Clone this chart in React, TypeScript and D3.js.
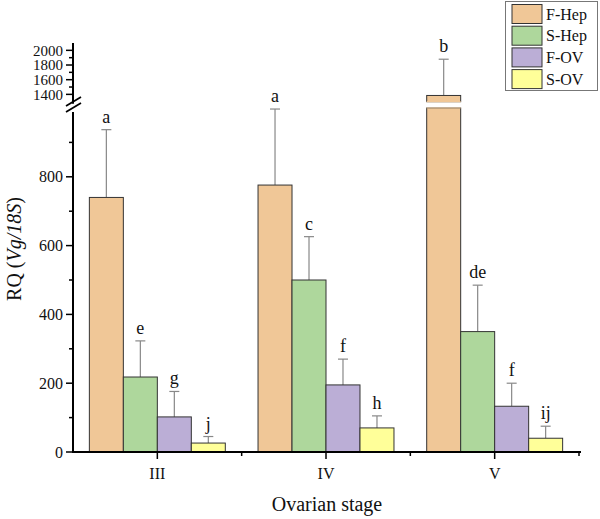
import React from "react";
import * as d3 from "d3";

const stages = ["III", "IV", "V"];
const seriesNames = ["F-Hep", "S-Hep", "F-OV", "S-OV"];
const seriesColors = ["#F0C797", "#AED79C", "#BBAED6", "#FFFF99"];
// values[series][stage]
const means = [
  [740, 776, 1385],
  [218, 500, 350],
  [102, 195, 133],
  [26, 70, 40],
];
const errs = [
  [197, 221, 494],
  [105, 126, 135],
  [74, 75, 67],
  [19, 35, 35],
];
const letters = [
  ["a", "a", "b"],
  ["e", "c", "de"],
  ["g", "f", "f"],
  ["j", "h", "ij"],
];
const lowTicks = [0, 200, 400, 600, 800];
const lowMinor = [100, 300, 500, 700, 900];
const highTicks = [1400, 1600, 1800, 2000];
const highMinor = [1500, 1700, 1900];

const FONT = "'Liberation Serif', 'Times New Roman', serif";

export default function App() {
  const axisX = 73;
  const x0 = d3.scaleBand<string>().domain(stages).range([axisX, 579]).paddingInner(0.194).paddingOuter(0.097);
  const x1 = d3.scaleBand<string>().domain(seriesNames).range([0, x0.bandwidth()]);
  const yLow = d3.scaleLinear().domain([0, 1000]).range([452, 108]);
  const yHigh = d3.scaleLinear().domain([1300, 2100]).range([101.7, 43]);
  const breakVal = 1000;
  const y = (v: number) => (v <= breakVal ? yLow(v) : yHigh(v));
  const full = d3.scaleBand<string>().domain(stages).range([axisX, 579]);

  return (
    <svg width={600} height={519} style={{ position: "absolute", left: 0, top: 0, background: "#fff" }}>
      {/* bars */}
      {seriesNames.map((s, si) =>
        stages.map((st, gi) => {
          const v = means[si][gi];
          const bx = (x0(st) as number) + (x1(s) as number);
          const bw = x1.bandwidth();
          const cx = bx + bw / 2;
          const top = v + errs[si][gi];
          const yt = y(top);
          const parts =
            v <= breakVal ? (
              <rect x={bx} y={yLow(v)} width={bw} height={yLow(0) - yLow(v)} fill={seriesColors[si]} stroke="#333" strokeWidth={1} />
            ) : (
              <g>
                <rect x={bx} y={yLow(breakVal)} width={bw} height={yLow(0) - yLow(breakVal)} fill={seriesColors[si]} stroke="#333" strokeWidth={1} />
                <rect x={bx} y={yHigh(v)} width={bw} height={yHigh(1300) - yHigh(v)} fill={seriesColors[si]} stroke="#333" strokeWidth={1} />
                <line x1={bx} x2={bx + bw} y1={yLow(breakVal)} y2={yLow(breakVal)} stroke={seriesColors[si]} strokeWidth={1.2} />
                <line x1={bx} x2={bx + bw} y1={yHigh(1300)} y2={yHigh(1300)} stroke={seriesColors[si]} strokeWidth={1.2} />
              </g>
            );
          return (
            <g key={s + st}>
              <line x1={cx} x2={cx} y1={y(v)} y2={yt} stroke="#888" strokeWidth={1.2} />
              <line x1={cx - 5} x2={cx + 5} y1={yt} y2={yt} stroke="#888" strokeWidth={1.2} />
              {parts}
              <text x={cx} y={yt - 7} textAnchor="middle" fontFamily={FONT} fontSize={18} fill="#111">
                {letters[si][gi]}
              </text>
            </g>
          );
        })
      )}

      {/* y axis lower */}
      <line x1={axisX} x2={axisX} y1={yLow(0) + 1} y2={112} stroke="#000" strokeWidth={2} />
      {lowTicks.map((t) => (
        <g key={"lt" + t}>
          <line x1={axisX - 7} x2={axisX} y1={yLow(t)} y2={yLow(t)} stroke="#000" strokeWidth={1.5} />
          <text x={axisX - 10} y={yLow(t)} dy="0.35em" textAnchor="end" fontFamily={FONT} fontSize={16} fill="#111">
            {t}
          </text>
        </g>
      ))}
      {lowMinor.map((t) => (
        <line key={"lm" + t} x1={axisX - 4} x2={axisX} y1={yLow(t)} y2={yLow(t)} stroke="#000" strokeWidth={1.5} />
      ))}
      {/* y axis upper */}
      <line x1={axisX} x2={axisX} y1={yHigh(1300) + 2} y2={43} stroke="#000" strokeWidth={2} />
      {highTicks.map((t) => (
        <g key={"ht" + t}>
          <line x1={axisX - 7} x2={axisX} y1={yHigh(t)} y2={yHigh(t)} stroke="#000" strokeWidth={1.5} />
          <text x={axisX - 10} y={yHigh(t)} dy="0.35em" textAnchor="end" fontFamily={FONT} fontSize={15} fill="#111">
            {t}
          </text>
        </g>
      ))}
      {highMinor.map((t) => (
        <line key={"hm" + t} x1={axisX - 4} x2={axisX} y1={yHigh(t)} y2={yHigh(t)} stroke="#000" strokeWidth={1.5} />
      ))}
      {/* break marks */}
      <line x1={axisX - 7} x2={axisX + 8} y1={106} y2={97} stroke="#000" strokeWidth={1.8} />
      <line x1={axisX - 7} x2={axisX + 8} y1={112} y2={103} stroke="#000" strokeWidth={1.8} />

      {/* x axis */}
      <line x1={axisX - 1} x2={581} y1={yLow(0)} y2={yLow(0)} stroke="#000" strokeWidth={2} />
      {stages.map((st) => {
        const c = (full(st) as number) + full.bandwidth() / 2;
        const e = (full(st) as number) + full.bandwidth();
        return (
          <g key={"xt" + st}>
            <line x1={c} x2={c} y1={yLow(0)} y2={yLow(0) + 7} stroke="#000" strokeWidth={1.5} />
            <line x1={e} x2={e} y1={yLow(0)} y2={yLow(0) + 4} stroke="#000" strokeWidth={1.5} />
            <text x={c} y={yLow(0) + 27} textAnchor="middle" fontFamily={FONT} fontSize={16} fill="#111">
              {st}
            </text>
          </g>
        );
      })}

      {/* axis titles */}
      <text x={327} y={511} textAnchor="middle" fontFamily={FONT} fontSize={20} fill="#111">
        Ovarian stage
      </text>
      <text transform="translate(21,249) rotate(-90)" textAnchor="middle" fontFamily={FONT} fontSize={20} fill="#111">
        RQ (<tspan fontStyle="italic">Vg/18S</tspan>)
      </text>

      {/* legend */}
      <rect x={505.5} y={1.5} width={92} height={89} fill="#fff" stroke="#777" strokeWidth={1} />
      {seriesNames.map((s, i) => (
        <g key={"lg" + s}>
          <rect x={512} y={4.5 + i * 21.7} width={30} height={19} fill={seriesColors[i]} stroke="#333" strokeWidth={1} />
          <text x={546} y={14 + i * 21.7} dy="0.35em" fontFamily={FONT} fontSize={16} fill="#111">
            {s}
          </text>
        </g>
      ))}
    </svg>
  );
}
